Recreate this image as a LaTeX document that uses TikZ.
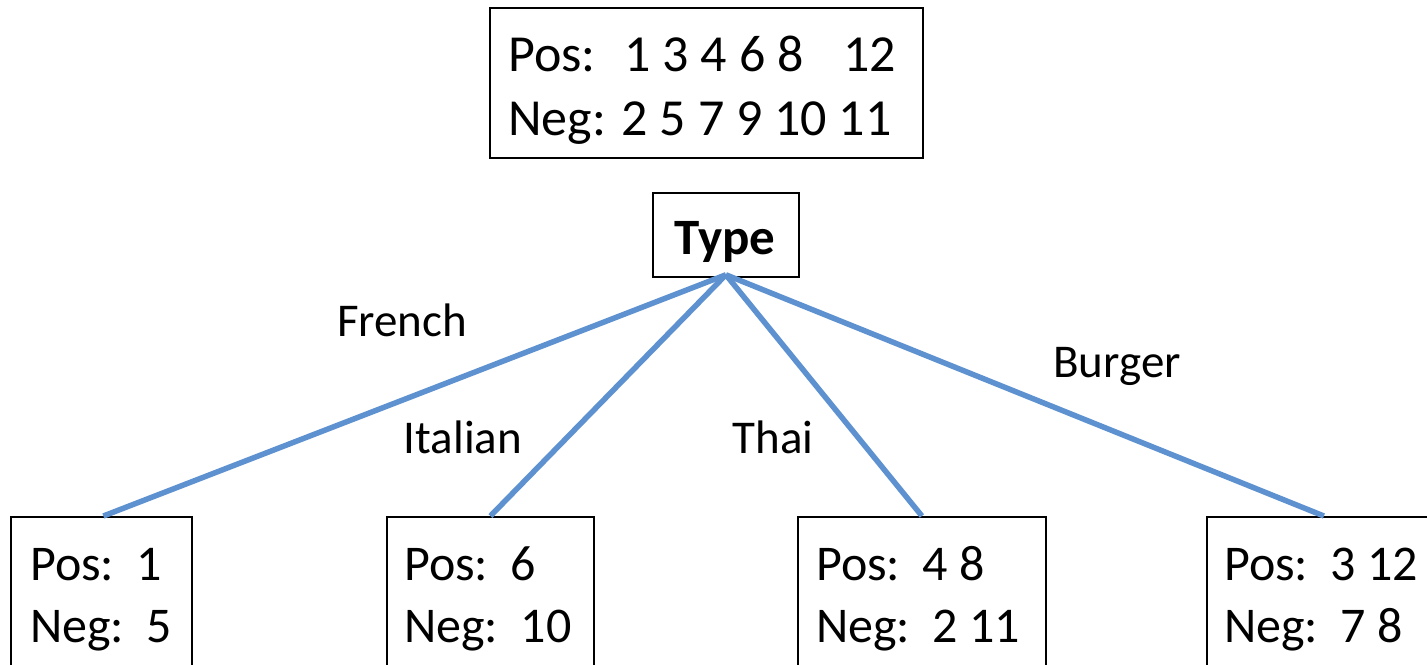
\documentclass[tikz,border=0pt]{standalone}
\usepackage{fontspec}
\setmainfont{Carlito}
\definecolor{edgeblue}{RGB}{94,145,207}
\begin{document}
\begin{tikzpicture}[x=1pt,y=-1pt,
  box/.style={draw=black, line width=1.8pt, rectangle, inner sep=0pt},
  edge/.style={draw=edgeblue, line width=5.5pt},
  bigtxt/.style={anchor=base west, inner sep=0pt, font=\fontsize{52}{64}\selectfont},
  leaftxt/.style={anchor=base west, inner sep=0pt, font=\fontsize{50}{60}\selectfont},
  lbl/.style={anchor=base, inner sep=0pt, font=\fontsize{47}{56}\selectfont}]
\useasboundingbox (0,0) rectangle (1427,664);
\clip (0,0) rectangle (1427,664);
\fill[white] (0,0) rectangle (1427,664);

% root summary
\node[box, anchor=north west, minimum width=433pt, minimum height=150pt] (top) at (489,7) {};
\node[bigtxt] (toppos) at (508,71) {Pos:\hspace{29pt}1 3 4 6 8\hspace{40pt}12};
\node[bigtxt] (topneg) at (508,135) {Neg: 2 5 7 9 10 11};

% attribute node
\node[box, anchor=north west, minimum width=146pt, minimum height=84pt] (type) at (652,192) {};
\node[anchor=base, inner sep=0pt, font=\fontsize{51}{60}\selectfont\bfseries] (typetxt) at (725,254) {Type};

% leaves
\node[box, anchor=north west, minimum width=181pt, minimum height=170pt] (l1) at (10,516) {};
\node[box, anchor=north west, minimum width=207pt, minimum height=170pt] (l2) at (386,516) {};
\node[box, anchor=north west, minimum width=248pt, minimum height=170pt] (l3) at (797,516) {};
\node[box, anchor=north west, minimum width=234pt, minimum height=170pt] (l4) at (1206,516) {};

\node[leaftxt] (l1p) at (30,580) {Pos:\ \ 1};
\node[leaftxt] (l1n) at (30,642) {Neg:\ \ 5};
\node[leaftxt] (l2p) at (404,580) {Pos:\ \ 6};
\node[leaftxt] (l2n) at (404,642) {Neg:\ \ 10};
\node[leaftxt] (l3p) at (816,580) {Pos:\ \ 4 8};
\node[leaftxt] (l3n) at (816,642) {Neg:\ \ 2 11};
\node[leaftxt] (l4p) at (1224,580) {Pos:\ \ 3 12};
\node[leaftxt] (l4n) at (1224,642) {Neg:\ \ 7 8};

% edges
\draw[edge] ([yshift=3pt]type.south) -- ([xshift=2pt]l1.north);
\draw[edge] ([yshift=3pt]type.south) -- (l2.north);
\draw[edge] ([yshift=3pt]type.south) -- (l3.north);
\draw[edge] ([yshift=3pt]type.south) -- (l4.north);

% edge labels
\node[lbl] (lfr) at (402,336) {French};
\node[lbl] (lit) at (463,453) {Italian};
\node[lbl] (lth) at (773,453) {Thai};
\node[lbl] (lbu) at (1117,377) {Burger};
\end{tikzpicture}
\end{document}
